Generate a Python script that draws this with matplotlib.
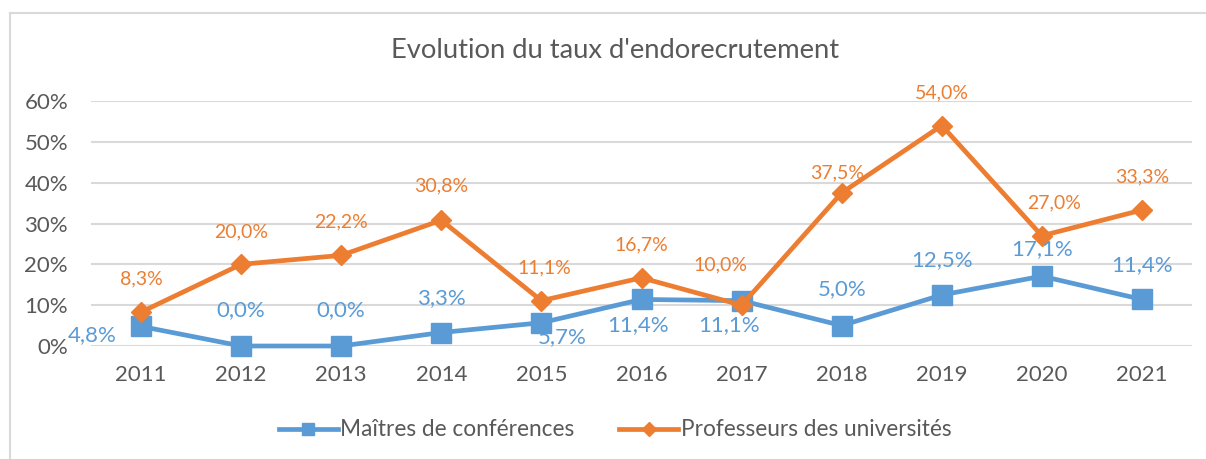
import matplotlib.pyplot as plt
from matplotlib.lines import Line2D

# Data
years = ["2011", "2012", "2013", "2014", "2015", "2016", "2017", "2018", "2019", "2020", "2021"]
mcf = [4.8, 0.0, 0.0, 3.3, 5.7, 11.4, 11.1, 5.0, 12.5, 17.1, 11.4]
pu = [8.3, 20.0, 22.2, 30.8, 11.1, 16.7, 10.0, 37.5, 54.0, 27.0, 33.3]
yticks = [0, 10, 20, 30, 40, 50, 60]

# label offsets in pixels (dx, dy), as Excel placed them
mcf_off = [(-49, -9), (0, 36), (0, 36), (0, 34), (21, -14), (-3, -26),
           (-13, -24), (0, 36), (0, 35), (0, 27), (0, 34)]
pu_off = [(0, 33), (0, 32), (0, 33), (0, 34), (3, 33), (0, 33),
          (-21, 40), (-5, 20), (0, 33), (12, 33), (0, 33)]

BLUE = "#5B9BD5"
ORANGE = "#ED7D31"
GREY = "#595959"

plt.rcParams['font.family'] = ['Lato', 'DejaVu Sans']

fig = plt.figure(figsize=(12.06, 4.59), dpi=100)
ax = fig.add_axes([91 / 1206, 1 - 346 / 459, (1192 - 91) / 1206, 245 / 459])

x = list(range(len(years)))
ax.plot(x, mcf, color=BLUE, lw=3.4, marker="s", ms=14, zorder=3)
ax.plot(x, pu, color=ORANGE, lw=3.4, marker="D", ms=10, zorder=4)

for i in x:
    ax.annotate(f"{mcf[i]:.1f}%".replace(".", ","), (i, mcf[i]),
                xytext=mcf_off[i], textcoords="offset pixels",
                ha="center", va="center", color=BLUE, fontsize=16, zorder=5)
    ax.annotate(f"{pu[i]:.1f}%".replace(".", ","), (i, pu[i]),
                xytext=pu_off[i], textcoords="offset pixels",
                ha="center", va="center", color=ORANGE, fontsize=14, zorder=5)

ax.set_xlim(-0.5, len(years) - 0.5)
ax.set_ylim(0, 60)
ax.set_yticks(yticks)
ax.set_yticklabels([f"{v}%" for v in yticks])
ax.set_xticks(x)
ax.set_xticklabels(years)
ax.tick_params(length=0, labelsize=16, labelcolor=GREY)
ax.tick_params(axis="x", pad=14)
ax.tick_params(axis="y", pad=16.5)
ax.grid(axis="y", color="#D9D9D9", lw=1.5)
ax.set_axisbelow(True)
for s in ax.spines.values():
    s.set_visible(False)
for ln in ax.get_lines():
    ln.set_clip_on(False)

fig.text(615 / 1206, 1 - 50 / 459, "Evolution du taux d'endorecrutement",
         ha="center", va="center", fontsize=19.7, color=GREY)

# chart frame (top and left edges visible)
fig.add_artist(Line2D([10 / 1206, 1], [1 - 13 / 459, 1 - 13 / 459], color="#D9D9D9", lw=1.5))
fig.add_artist(Line2D([10 / 1206, 10 / 1206], [0, 1 - 13 / 459], color="#D9D9D9", lw=1.5))

handles = [Line2D([], [], color=BLUE, lw=3.4, marker="s", ms=9),
           Line2D([], [], color=ORANGE, lw=3.4, marker="D", ms=7)]
fig.legend(handles, ["Maîtres de conférences", "Professeurs des universités"],
           loc="center", bbox_to_anchor=(615 / 1206, 1 - 430 / 459), ncol=2,
           frameon=False, fontsize=16.3, labelcolor=GREY, handlelength=2.6,
           handletextpad=0.1, columnspacing=2.0)

fig.savefig("out.png", dpi=100)
